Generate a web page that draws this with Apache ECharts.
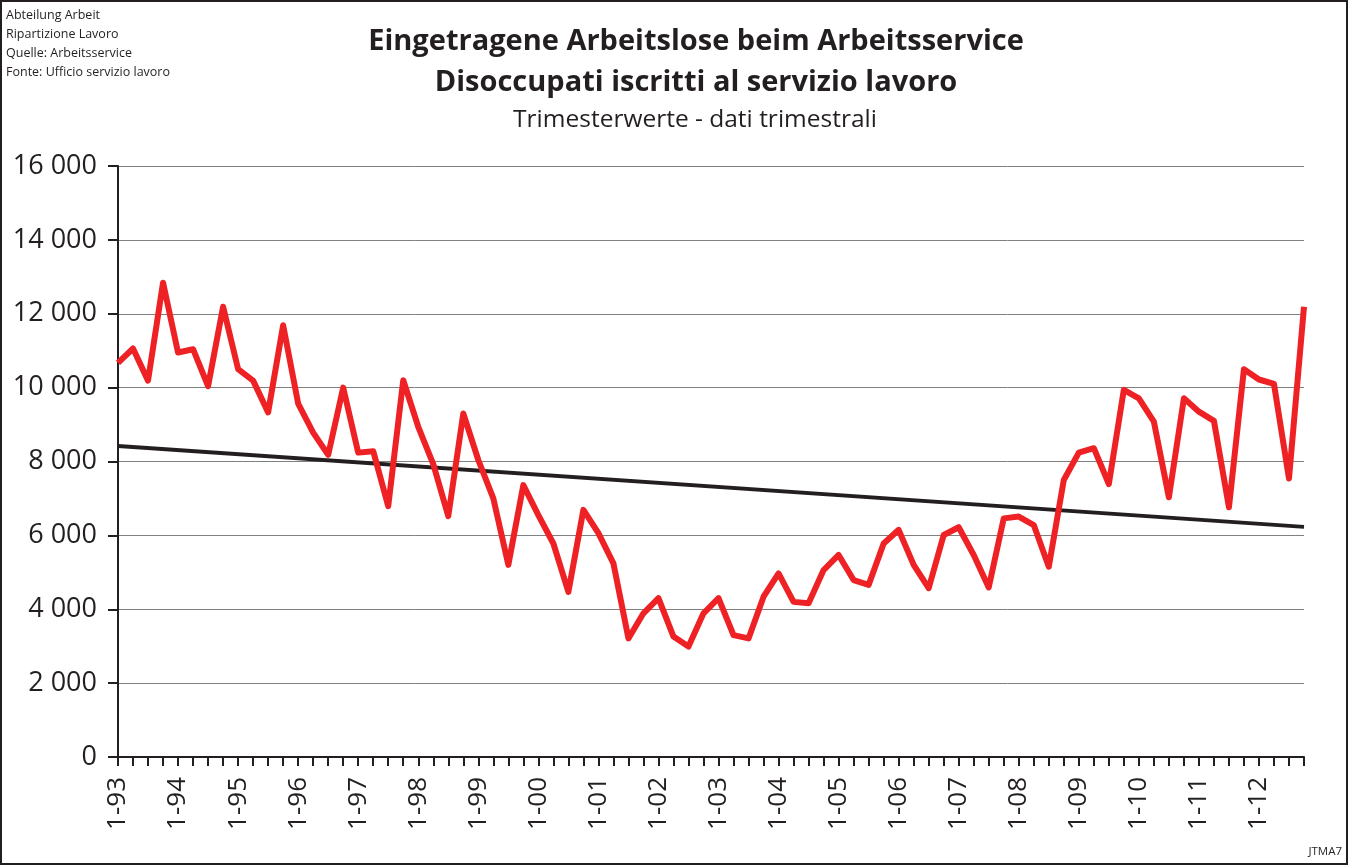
<!DOCTYPE html>
<html>
<head>
<meta charset="utf-8">
<script src="https://cdn.jsdelivr.net/npm/echarts@6/dist/echarts.min.js"></script>
<style>
  html, body { margin: 0; padding: 0; background: #fff; }
  #chart { width: 1349px; height: 866px; }
</style>
</head>
<body>
<div id="chart"></div>
<script>
// quarters 1-93 .. 4-12
const years = ['93','94','95','96','97','98','99','00','01','02','03','04','05','06','07','08','09','10','11','12'];
const quarters = [];
years.forEach(function (y) {
    for (let q = 1; q <= 4; q++) quarters.push(q + '-' + y);
});

// registered unemployed, quarterly values
const unemployed = [
    10670, 11060, 10190, 12840,
    10950, 11040, 10040, 12190,
    10500, 10190, 9330, 11690,
    9570, 8780, 8180, 10000,
    8240, 8280, 6790, 10200,
    8940, 7930, 6520, 9300,
    8040, 7000, 5200, 7360,
    6550, 5780, 4470, 6690,
    6060, 5240, 3210, 3890,
    4300, 3260, 2990, 3890,
    4300, 3300, 3210, 4340,
    4970, 4200, 4160, 5060,
    5470, 4790, 4660, 5780,
    6150, 5200, 4570, 6010,
    6220, 5470, 4590, 6460,
    6510, 6280, 5150, 7500,
    8240, 8360, 7390, 9940,
    9710, 9080, 7030, 9710,
    9350, 9100, 6760, 10500,
    10220, 10100, 7540, 12190
];

// linear trend, start and end values
const trendStart = 8420;
const trendEnd = 6230;

const yTicks = [0, 2000, 4000, 6000, 8000, 10000, 12000, 14000, 16000];

const chart = echarts.init(document.getElementById('chart'));

function fmtThousands(v) {
    return v >= 1000 ? Math.floor(v / 1000) + ' ' + String(v % 1000).padStart(3, '0') : String(v);
}

const font = "'Open Sans', 'Noto Sans', sans-serif";

chart.setOption({
    backgroundColor: '#ffffff',
    animation: false,
    textStyle: { fontFamily: font },
    grid: { left: 118, right: 45, top: 166, bottom: 109 },
    graphic: [
        {
            type: 'rect',
            shape: { x: 1, y: 1, width: 1346, height: 863 },
            style: { fill: 'none', stroke: '#231f20', lineWidth: 2 },
            silent: true
        },
        {
            type: 'text', left: 6, top: 6,
            style: { text: 'Abteilung Arbeit\nRipartizione Lavoro\nQuelle: Arbeitsservice\nFonte: Ufficio servizio lavoro',
                     font: '12.5px ' + font, fill: '#231f20', lineHeight: 19 }
        },
        {
            type: 'text', x: 696, y: 42,
            style: { text: 'Eingetragene Arbeitslose beim Arbeitsservice', font: 'bold 29px ' + font,
                     fill: '#231f20', align: 'center', verticalAlign: 'middle' }
        },
        {
            type: 'text', x: 696, y: 83,
            style: { text: 'Disoccupati iscritti al servizio lavoro', font: 'bold 29px ' + font,
                     fill: '#231f20', align: 'center', verticalAlign: 'middle' }
        },
        {
            type: 'text', x: 695, y: 120,
            style: { text: 'Trimesterwerte - dati trimestrali', font: '24.5px ' + font,
                     fill: '#231f20', align: 'center', verticalAlign: 'middle' }
        },
        {
            type: 'text', right: 7, bottom: 8,
            style: { text: 'JTMA7', font: '11.5px ' + font, fill: '#231f20' }
        }
    ],
    xAxis: {
        type: 'category',
        data: quarters,
        boundaryGap: false,
        axisLine: { lineStyle: { color: '#231f20', width: 2 } },
        axisTick: { show: true, interval: 0, length: 9, lineStyle: { color: '#231f20', width: 2 } },
        axisLabel: {
            interval: 3,
            rotate: 90,
            margin: 20,
            fontSize: 26,
            color: '#231f20'
        },
        splitLine: { show: false }
    },
    yAxis: {
        type: 'value',
        min: yTicks[0],
        max: yTicks[yTicks.length - 1],
        interval: 2000,
        axisLine: { show: true, lineStyle: { color: '#231f20', width: 2 } },
        axisTick: { show: true, length: 10, lineStyle: { color: '#231f20', width: 2 } },
        axisLabel: { fontSize: 27, color: '#231f20', margin: 21, formatter: fmtThousands },
        splitLine: { show: true, lineStyle: { color: '#808080', width: 1 } }
    },
    series: [
        {
            type: 'line',
            data: [[quarters[0], trendStart], [quarters[quarters.length - 1], trendEnd]],
            symbol: 'none',
            lineStyle: { color: '#231f20', width: 4 },
            z: 2
        },
        {
            type: 'line',
            data: unemployed,
            symbol: 'none',
            lineStyle: { color: '#ee2224', width: 6, join: 'round' },
            z: 3
        }
    ]
});
</script>
</body>
</html>
